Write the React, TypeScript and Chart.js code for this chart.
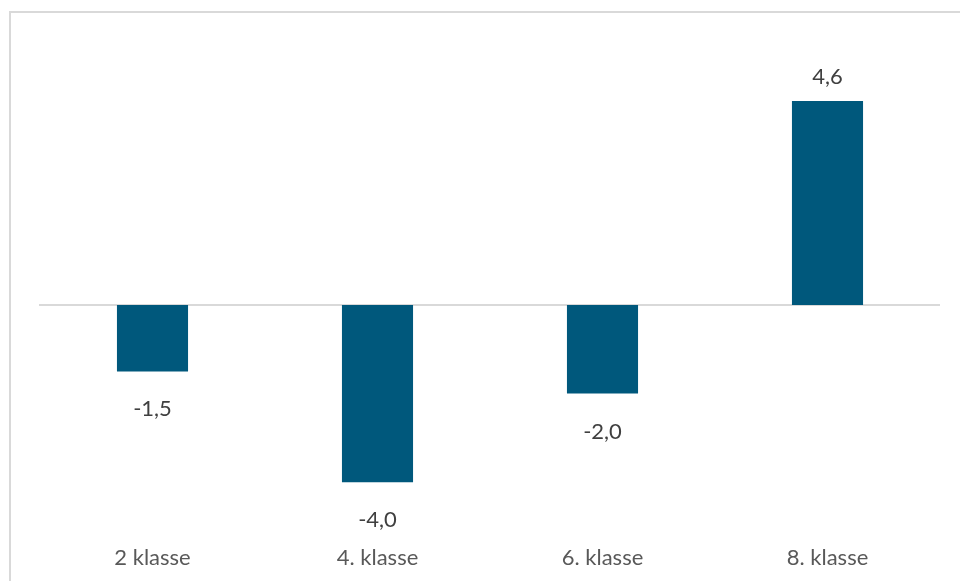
import React, { useEffect, useRef } from "react";
import { Chart, registerables } from "chart.js";

Chart.register(...registerables);

const categories = ["2 klasse", "4. klasse", "6. klasse", "8. klasse"];
const values = [-1.5, -4.0, -2.0, 4.6];
const valueLabels = ["-1,5", "-4,0", "-2,0", "4,6"];

const FONT = "Lato, 'Noto Sans', sans-serif";

const zeroLinePlugin = {
  id: "zeroLine",
  beforeDatasetsDraw(chart: any) {
    const { ctx, chartArea, scales } = chart;
    const y = scales.y.getPixelForValue(0);
    ctx.save();
    ctx.strokeStyle = "#d9d9d9";
    ctx.lineWidth = 2;
    ctx.beginPath();
    ctx.moveTo(chartArea.left - 1, y);
    ctx.lineTo(chartArea.right, y);
    ctx.stroke();
    ctx.restore();
  },
};

const valueLabelPlugin = {
  id: "valueLabels",
  afterDatasetsDraw(chart: any) {
    const { ctx } = chart;
    const meta = chart.getDatasetMeta(0);
    ctx.save();
    ctx.fillStyle = "#404040";
    ctx.font = `22px ${FONT}`;
    ctx.textAlign = "center";
    ctx.textBaseline = "middle";
    meta.data.forEach((bar: any, i: number) => {
      const v = values[i];
      const y = v >= 0 ? bar.y - 24 : bar.y + 38;
      ctx.fillText(valueLabels[i], bar.x, y);
    });
    ctx.restore();
  },
};

export default function App() {
  const ref = useRef<HTMLCanvasElement>(null);
  useEffect(() => {
    if (!ref.current) return;
    const chart = new Chart(ref.current, {
      type: "bar",
      data: {
        labels: categories,
        datasets: [
          {
            data: values,
            backgroundColor: "#00587C",
            borderWidth: 0,
            barPercentage: 1,
            categoryPercentage: 0.316,
          },
        ],
      },
      options: {
        responsive: false,
        animation: false,
        devicePixelRatio: 1,
        layout: { padding: { top: 61, bottom: -8, left: 40, right: 20 } },
        plugins: {
          legend: { display: false },
          tooltip: { enabled: false },
        },
        scales: {
          x: {
            grid: { display: false, drawTicks: false },
            border: { display: false },
            ticks: {
              color: "#595959",
              font: { family: FONT, size: 22 },
              padding: 18,
            },
          },
          y: {
            display: false,
            min: -5,
            max: 5.5,
          },
        },
      },
      plugins: [zeroLinePlugin, valueLabelPlugin],
    });
    return () => chart.destroy();
  }, []);
  return (
    <div>
      <div
        style={{
          position: "fixed",
          left: 9,
          top: 11,
          width: 1000,
          height: 1000,
          border: "2px solid #d9d9d9",
          boxSizing: "border-box",
        }}
      />
      <canvas
        ref={ref}
        width={960}
        height={581}
        style={{ position: "fixed", left: 0, top: 0, width: 960, height: 581 }}
      />
    </div>
  );
}
